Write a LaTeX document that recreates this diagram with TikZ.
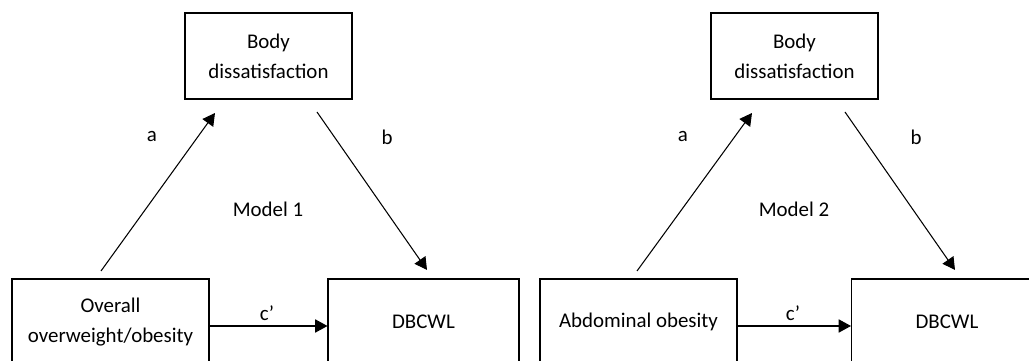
\documentclass[tikz,border=0pt]{standalone}
\usepackage{fontspec}
\setmainfont{Carlito}
\usetikzlibrary{arrows.meta}

\begin{document}
\begin{tikzpicture}
  [x=0.02cm,y=0.02cm,>={Triangle[length=7pt,width=7.5pt]},line width=0.6pt,
   every node/.style={font=\fontsize{11.9}{17}\selectfont,align=center},
   var/.style={draw,inner sep=0pt,minimum height=1.72cm}]
  \useasboundingbox (0,0) rectangle (1029,361);
  \clip (0,0) rectangle (1029,361);

  % Model 1
  \node[var,minimum width=3.34cm] (body1) at (268.5,305) {Body\\dissatisfaction};
  \node[var,minimum width=3.94cm] (over1) at (110.5,39) {Overall\\overweight/obesity};
  \node[var,minimum width=3.82cm] (dbcwl1) at (423.5,39) {DBCWL};
  \coordinate (a1s) at (101,90);
  \coordinate (a1e) at (215,248);
  \coordinate (b1s) at (317,249);
  \coordinate (b1e) at (427,91);
  \node (la1) at (152,224) {a};
  \node (lb1) at (387,224) {b};
  \node (m1) at (268,152) {Model 1};
  \node (lc1) at (267,48) {c’};

  % Model 2
  \node[var,minimum width=3.34cm] (body2) at (794.5,305) {Body\\dissatisfaction};
  \node[var,minimum width=3.94cm] (abd2) at (638.5,39) {Abdominal obesity};
  \node[var,minimum width=3.82cm] (dbcwl2) at (947,39) {DBCWL};
  \coordinate (a2s) at (637,90);
  \coordinate (a2e) at (752,248);
  \coordinate (b2s) at (845,249);
  \coordinate (b2e) at (955,91);
  \node (la2) at (683,224) {a};
  \node (lb2) at (916,224) {b};
  \node (m2) at (794,152) {Model 2};
  \node (lc2) at (793,48) {c’};

  \foreach \from/\to in {a1s/a1e,b1s/b1e,a2s/a2e,b2s/b2e}
    \draw[->] (\from) -- (\to);
  \draw[->] ([yshift=-0.08cm]over1.east) -- ([yshift=-0.08cm]dbcwl1.west);
  \draw[->] ([yshift=-0.08cm]abd2.east) -- ([yshift=-0.08cm]dbcwl2.west);

\end{tikzpicture}
\end{document}
